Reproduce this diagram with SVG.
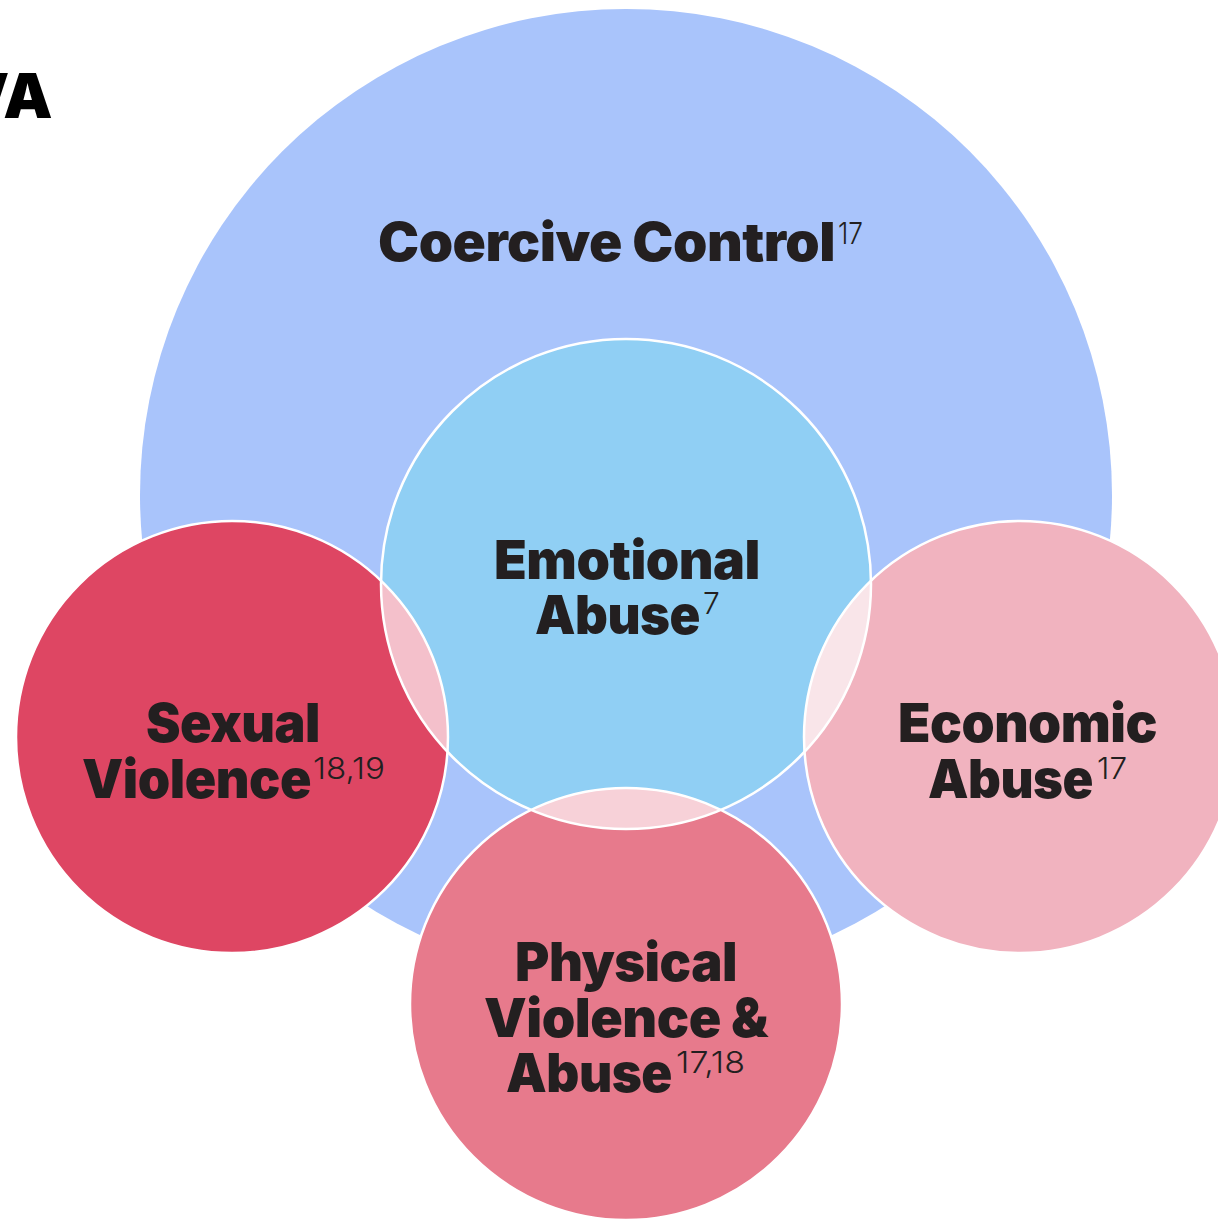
<svg xmlns="http://www.w3.org/2000/svg" width="1218" height="1219" viewBox="0 0 1218 1219">
<style>
.lbl{font-family:Inter,"Noto Sans","Liberation Sans",sans-serif;font-weight:900;fill:#231f20;font-size:54px;letter-spacing:-0.5px}
.sup{font-family:Inter,"Noto Sans","Liberation Sans",sans-serif;font-weight:300;fill:#231f20;font-size:30px}
.ring{fill:none;stroke:#ffffff;stroke-width:2.5}
</style>
<defs>
<clipPath id="clipEmo"><circle cx="626" cy="584" r="245"/></clipPath>
</defs>
<rect width="1218" height="1219" fill="#ffffff"/>
<text class="lbl" x="52" y="118" text-anchor="end" style="font-size:62px;fill:#000">VA</text>
<g id="coercive-control">
<circle cx="626" cy="495" r="486" fill="#a9c4fb"/>
<text class="lbl" x="378" y="261" textLength="457" lengthAdjust="spacingAndGlyphs">Coercive Control</text>
<text class="sup" x="838" y="244" textLength="25" lengthAdjust="spacingAndGlyphs">17</text>
</g>
<g id="emotional-abuse">
<circle cx="626" cy="584" r="245" fill="#90cff4"/>
</g>
<g id="sexual-violence">
<circle cx="232" cy="737" r="216" fill="#de4663"/>
</g>
<g id="economic-abuse">
<circle cx="1020" cy="737" r="216" fill="#f1b3bf"/>
</g>
<g id="physical-violence">
<circle cx="626" cy="1004" r="216" fill="#e77a8c"/>
</g>
<g id="overlaps" clip-path="url(#clipEmo)">
<circle cx="232" cy="737" r="216" fill="#f4c0cb"/>
<circle cx="1020" cy="737" r="216" fill="#f9e5e9"/>
<circle cx="626" cy="1004" r="216" fill="#f7d1d8"/>
</g>
<g id="connectors">
<circle class="ring" cx="626" cy="584" r="245"/>
<circle class="ring" cx="232" cy="737" r="216"/>
<circle class="ring" cx="1020" cy="737" r="216"/>
<circle class="ring" cx="626" cy="1004" r="216"/>
</g>
<g id="labels">
<text class="lbl" x="494" y="579" textLength="266" lengthAdjust="spacingAndGlyphs">Emotional</text>
<text class="lbl" x="535" y="634" textLength="165" lengthAdjust="spacingAndGlyphs">Abuse</text>
<text class="sup" x="703" y="614">7</text>
<text class="lbl" x="146" y="742" textLength="174" lengthAdjust="spacingAndGlyphs">Sexual</text>
<text class="lbl" x="82" y="798" textLength="229" lengthAdjust="spacingAndGlyphs">Violence</text>
<text class="sup" x="313" y="779" textLength="72" lengthAdjust="spacingAndGlyphs">18,19</text>
<text class="lbl" x="898" y="742" textLength="259" lengthAdjust="spacingAndGlyphs">Economic</text>
<text class="lbl" x="928" y="798" textLength="165" lengthAdjust="spacingAndGlyphs">Abuse</text>
<text class="sup" x="1097" y="779" textLength="30" lengthAdjust="spacingAndGlyphs">17</text>
<text class="lbl" x="515" y="981" textLength="222" lengthAdjust="spacingAndGlyphs">Physical</text>
<text class="lbl" x="484" y="1037" textLength="284" lengthAdjust="spacingAndGlyphs">Violence &amp;</text>
<text class="lbl" x="506" y="1092" textLength="166" lengthAdjust="spacingAndGlyphs">Abuse</text>
<text class="sup" x="676" y="1073" textLength="69" lengthAdjust="spacingAndGlyphs">17,18</text>
</g>
</svg>
